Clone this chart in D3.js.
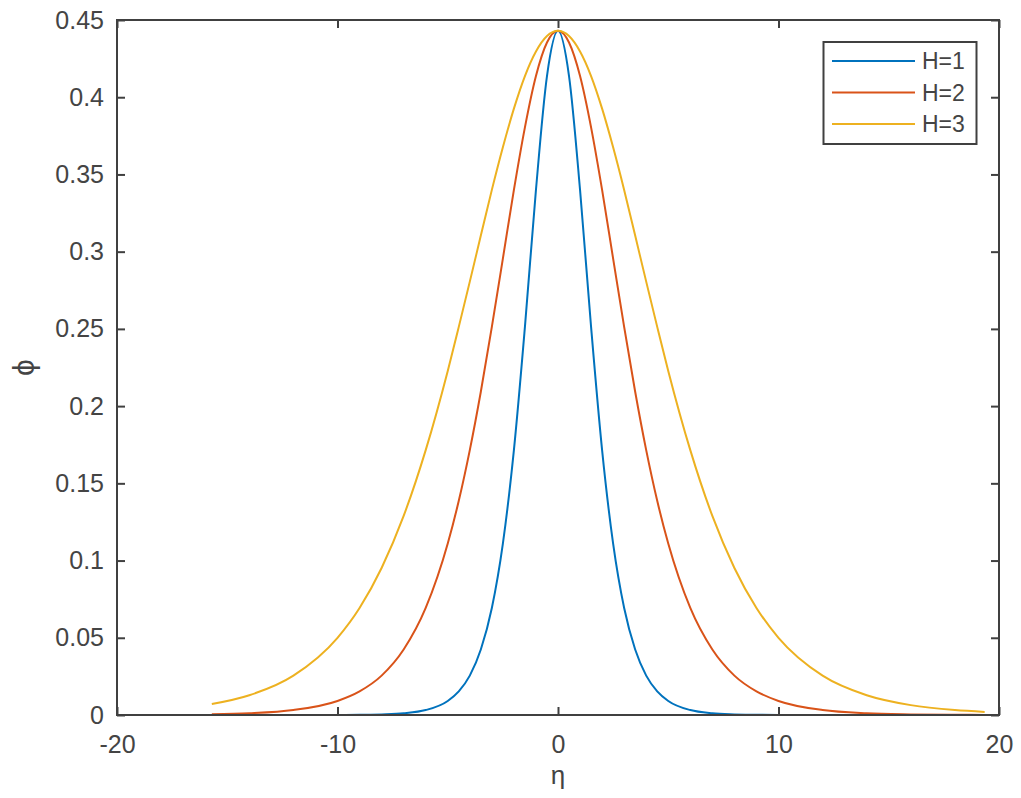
<!DOCTYPE html>
<html>
<head>
<meta charset="utf-8">
<script src="https://cdn.jsdelivr.net/npm/d3@7"></script>
<style>
  html, body { margin: 0; padding: 0; background: #fff; }
  svg { display: block; }
  text { font-family: "Liberation Sans", Arial, Helvetica, sans-serif; }
</style>
</head>
<body>
<svg id="chart" width="1021" height="798"></svg>
<script>
// ---- data ----
const eta = [-15.7, -14, -12, -10, -9, -8, -7, -6, -5, -4.5, -4, -3.5, -3, -2.5, -2, -1.5, -1, -0.5,
             0, 0.5, 1, 1.5, 2, 2.5, 3, 3.5, 4, 4.5, 5, 6, 7, 8, 9, 10, 12, 14, 16, 18, 19.35];

const phiH1 = [0, 0, 0, 0.00005, 0.0001, 0.0004, 0.0011, 0.0032, 0.0091, 0.0153, 0.0255, 0.0424, 0.0693, 0.111, 0.1715, 0.2513, 0.340, 0.4137,
               0.443, 0.4137, 0.340, 0.2513, 0.1715, 0.111, 0.0693, 0.0424, 0.0255, 0.0153, 0.0091, 0.0032, 0.0011, 0.0004, 0.0001, 0.00005, 0, 0, 0, 0, 0];

const phiH2 = [0.0005, 0.0011, 0.0032, 0.0091, 0.0153, 0.0255, 0.0424, 0.0693, 0.111, 0.1387, 0.1715, 0.2093, 0.2513, 0.2955, 0.340, 0.3805, 0.4137, 0.4354,
               0.443, 0.4354, 0.4137, 0.3805, 0.340, 0.2955, 0.2513, 0.2093, 0.1715, 0.1387, 0.111, 0.0693, 0.0424, 0.0255, 0.0153, 0.0091, 0.0032, 0.0011, 0.0004, 0.00014, 0.00007];

const phiH3 = [0.0071, 0.0128, 0.0255, 0.0500, 0.0693, 0.0952, 0.1289, 0.1715, 0.2228, 0.2513, 0.2806, 0.3104, 0.340, 0.3676, 0.3926, 0.4137, 0.4296, 0.4396,
               0.443, 0.4396, 0.4296, 0.4137, 0.3926, 0.3676, 0.340, 0.3104, 0.2806, 0.2513, 0.2228, 0.1715, 0.1289, 0.0952, 0.0693, 0.0500, 0.0255, 0.0128, 0.0064, 0.0032, 0.0020];

const seriesNames = ["H=1", "H=2", "H=3"];
const seriesValues = [phiH1, phiH2, phiH3];
const seriesColors = ["#0072BD", "#D95319", "#EDB120"];

const xTicks = [-20, -10, 0, 10, 20];
const yTicks = [0, 0.05, 0.1, 0.15, 0.2, 0.25, 0.3, 0.35, 0.4, 0.45];
const xLabel = "η";
const yLabel = "ϕ";

// ---- layout ----
const L = 117, R = 999, T = 20, B = 715;
const axisColor = "#404040";
const textColor = "#444444";
const fontSize = 25;

const svg = d3.select("#chart");
const x = d3.scaleLinear().domain([-20, 20]).range([L, R]);
const y = d3.scaleLinear().domain([0, 0.45]).range([B, T]);

const fmtY = d => d === 0 ? "0" : String(+d.toFixed(2));
const fmtX = d => String(d);

// curves
const line = d3.line()
  .x((d, i) => x(eta[i]))
  .y(d => y(d))
  .curve(d3.curveMonotoneX);

const plot = svg.append("g");
seriesValues.forEach((vals, k) => {
  plot.append("path")
    .datum(vals)
    .attr("fill", "none")
    .attr("stroke", seriesColors[k])
    .attr("stroke-width", 2)
    .attr("stroke-linejoin", "round")
    .attr("d", line);
});

// axes (ticks pointing inward on all four sides)
function styleAxis(g) {
  g.selectAll(".domain").remove();
  g.selectAll(".tick line").attr("stroke", axisColor).attr("stroke-width", 2);
  g.selectAll(".tick text")
    .attr("fill", textColor)
    .style("font-size", fontSize + "px")
    .style("font-family", '"Liberation Sans", Arial, sans-serif');
}

svg.append("g").attr("transform", `translate(0,${B})`)
  .call(d3.axisBottom(x).tickValues(xTicks).tickSizeInner(-8).tickSizeOuter(0).tickPadding(20).tickFormat(fmtX))
  .call(styleAxis);
svg.append("g").attr("transform", `translate(0,${T})`)
  .call(d3.axisTop(x).tickValues(xTicks).tickSizeInner(-8).tickSizeOuter(0).tickFormat(""))
  .call(styleAxis);
svg.append("g").attr("transform", `translate(${L},0)`)
  .call(d3.axisLeft(y).tickValues(yTicks).tickSizeInner(-8).tickSizeOuter(0).tickPadding(13).tickFormat(fmtY))
  .call(styleAxis);
svg.append("g").attr("transform", `translate(${R},0)`)
  .call(d3.axisRight(y).tickValues(yTicks).tickSizeInner(-8).tickSizeOuter(0).tickFormat(""))
  .call(styleAxis);

// frame
svg.append("rect")
  .attr("x", L).attr("y", T).attr("width", R - L).attr("height", B - T)
  .attr("fill", "none").attr("stroke", axisColor).attr("stroke-width", 2);

// axis labels
svg.append("text")
  .attr("x", (L + R) / 2).attr("y", 784)
  .attr("text-anchor", "middle")
  .attr("fill", textColor)
  .style("font-size", "26px")
  .text(xLabel);

svg.append("text")
  .attr("transform", `translate(34,${(T + B) / 2}) rotate(-90)`)
  .attr("text-anchor", "middle")
  .attr("fill", textColor)
  .style("font-size", "30px")
  .text(yLabel);

// legend
const leg = svg.append("g");
leg.append("rect")
  .attr("x", 823.5).attr("y", 42).attr("width", 153).attr("height", 102)
  .attr("fill", "#fff").attr("stroke", axisColor).attr("stroke-width", 2);
seriesNames.forEach((name, k) => {
  const yy = 61 + k * 31.5;
  leg.append("line")
    .attr("x1", 832).attr("x2", 915).attr("y1", yy).attr("y2", yy)
    .attr("stroke", seriesColors[k]).attr("stroke-width", 2);
  leg.append("text")
    .attr("x", 922).attr("y", yy).attr("dy", "0.35em")
    .attr("fill", textColor)
    .style("font-size", "23px")
    .text(name);
});
</script>
</body>
</html>
